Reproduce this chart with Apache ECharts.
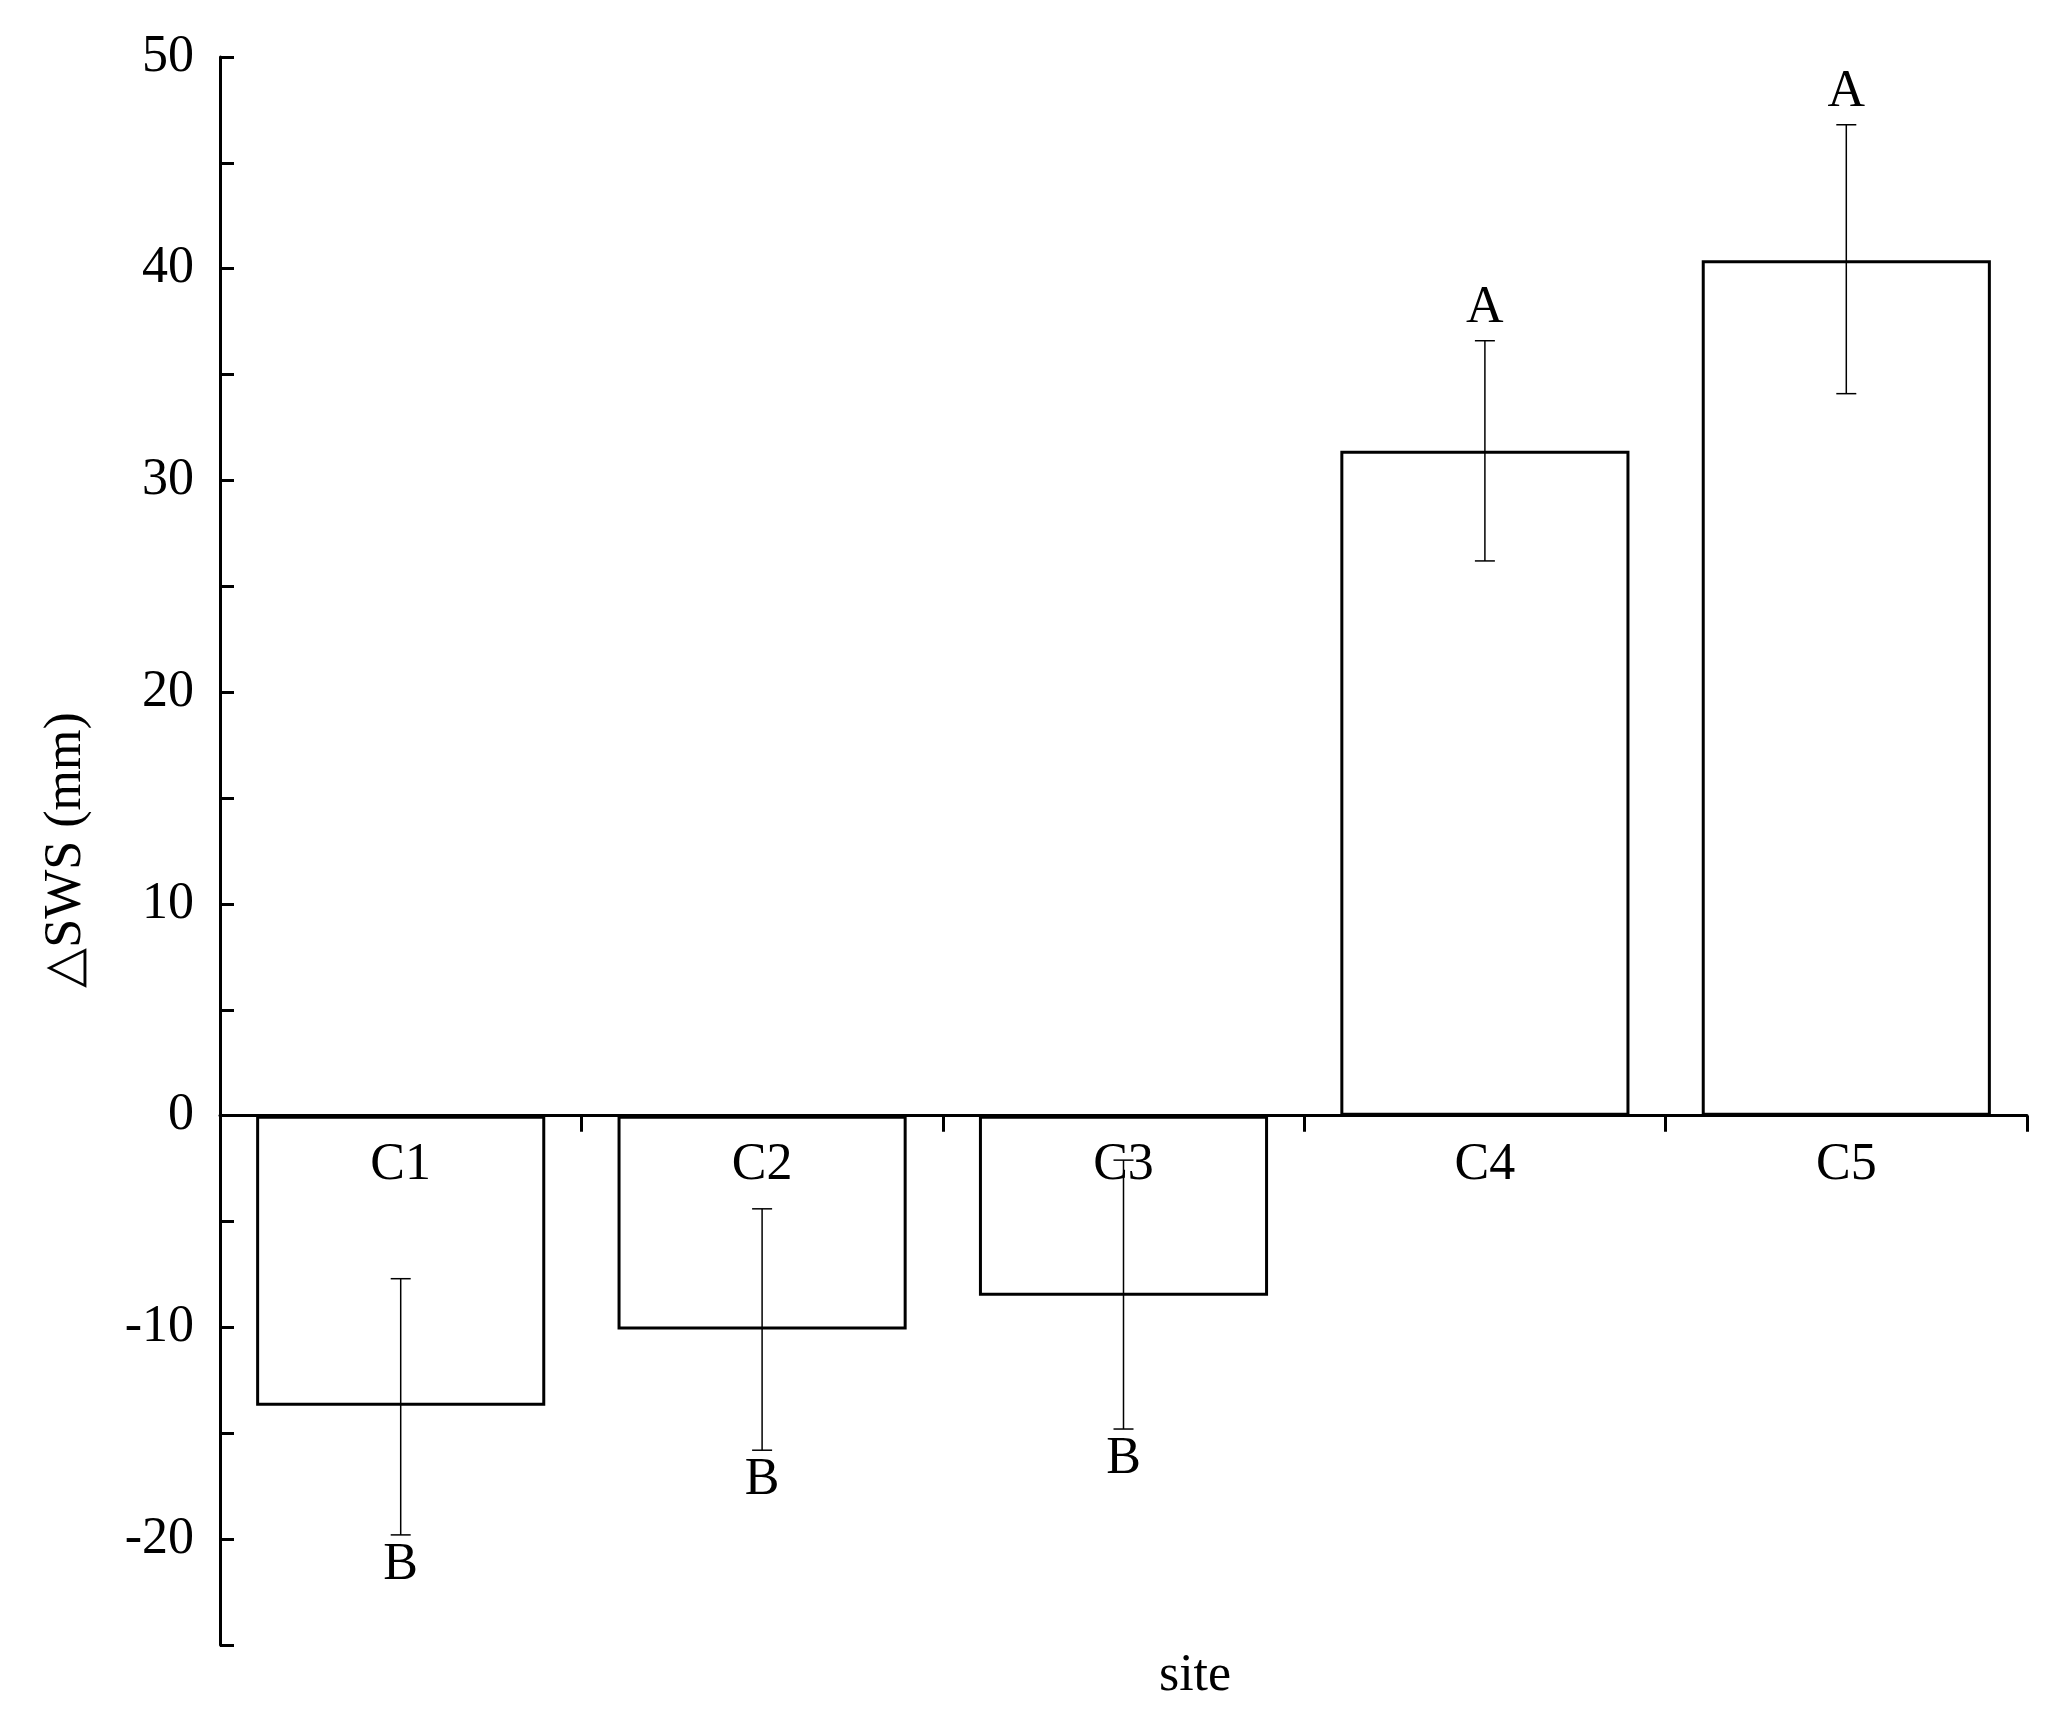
<!DOCTYPE html>
<html><head><meta charset="utf-8">
<script src="https://cdn.jsdelivr.net/npm/echarts@6/dist/echarts.min.js"></script>
<style>html,body{margin:0;background:#fff}#c{width:2056px;height:1720px}</style>
</head><body><div id="c"></div>
<script>
const categories = ['C1','C2','C3','C4','C5'];
const means = [-13.7, -10.1, -8.5, 31.4, 40.4];
const errLow = [-19.8, -15.8, -14.8, 26.2, 34.1];
const errHigh = [-7.7, -4.4, -2.1, 36.6, 46.8];
const letters = ['B','B','B','A','A'];
const yTicks = [-20,-10,0,10,20,30,40,50];

const font = 'Liberation Serif';
const chart = echarts.init(document.getElementById('c'));
chart.setOption({
  animation:false,
  backgroundColor:'#fff',
  grid:{left:220,right:29,top:57,bottom:75},
  xAxis:{type:'category',data:categories,
    axisLine:{onZero:true,lineStyle:{color:'#000',width:3}},
    axisTick:{show:true,length:16,lineStyle:{color:'#000',width:3}},
    axisLabel:{show:false}},
  yAxis:{type:'value',min:-25,max:50,interval:5,
    axisLine:{show:true,onZero:false,lineStyle:{color:'#000',width:3}},
    axisTick:{show:true,inside:true,length:14,lineStyle:{color:'#000',width:3}},
    splitLine:{show:false},
    axisLabel:{fontFamily:font,fontSize:52,color:'#000',margin:26,
      formatter:v=>yTicks.includes(v)?String(v):''}},
  graphic:[
    {type:'text',x:1195,y:1650,style:{text:'site',font:'52px "Liberation Serif"',fill:'#000',align:'center'}},
    {type:'text',x:40,y:850,rotation:Math.PI/2,style:{text:'△SWS (mm)',font:'52px "Liberation Serif"',fill:'#000',align:'center',verticalAlign:'top'}}
  ],
  series:[
    {type:'bar',data:means,barWidth:'80%',itemStyle:{color:'#fff',borderColor:'#000',borderWidth:3},z:2},
    {type:'custom',z:5,data:categories.map((c,i)=>[i,errLow[i],errHigh[i],means[i]]),
      renderItem:(params,api)=>{
        const i=api.value(0);
        const lo=api.coord([i,api.value(1)]), hi=api.coord([i,api.value(2)]);
        const z=api.coord([i,0]);
        const hw=10;
        const up=api.value(3)>0;
        const ty=up?hi[1]-6:lo[1]+4;
        return {type:'group',children:[
          {type:'line',shape:{x1:lo[0],y1:lo[1],x2:hi[0],y2:hi[1]},style:{stroke:'#000',lineWidth:1.5}},
          {type:'line',shape:{x1:lo[0]-hw,y1:lo[1],x2:lo[0]+hw,y2:lo[1]},style:{stroke:'#000',lineWidth:1.5}},
          {type:'line',shape:{x1:hi[0]-hw,y1:hi[1],x2:hi[0]+hw,y2:hi[1]},style:{stroke:'#000',lineWidth:1.5}},
          {type:'text',x:lo[0],y:ty,style:{text:letters[i],font:'52px "Liberation Serif"',fill:'#000',align:'center',verticalAlign:up?'bottom':'top'}},
          {type:'text',x:z[0],y:z[1]+24,style:{text:categories[i],font:'52px "Liberation Serif"',fill:'#000',align:'center',verticalAlign:'top'}}
        ]};
      }}
  ]
});
</script></body></html>
